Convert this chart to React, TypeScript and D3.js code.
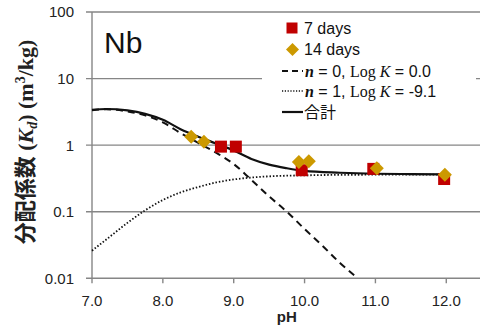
import React from "react";
import * as d3 from "d3";

// measured Kd values (m3/kg)
const PH_7DAYS = [8.82, 9.03, 9.96, 10.97, 11.97];
const KD_7DAYS = [0.95, 0.95, 0.42, 0.44, 0.31];
const PH_14DAYS = [8.4, 8.58, 9.92, 10.06, 11.02, 11.98];
const KD_14DAYS = [1.34, 1.12, 0.556, 0.575, 0.45, 0.36];

// model curves
const PH_N0 = [7.0, 7.2, 7.5, 7.75, 8.0, 8.25, 8.5, 8.75, 9.0, 9.25, 9.5, 9.75, 10.0, 10.25, 10.5, 10.75];
const KD_N0 = [3.35, 3.45, 3.22, 2.8, 2.2, 1.52, 1.08, 0.77, 0.52, 0.3, 0.17, 0.1, 0.055, 0.031, 0.017, 0.01];
const PH_N1 = [7.0, 7.25, 7.5, 7.75, 8.0, 8.25, 8.5, 8.75, 9.0, 9.5, 10.0, 10.5, 11.0, 12.0];
const KD_N1 = [0.026, 0.042, 0.068, 0.105, 0.15, 0.195, 0.235, 0.275, 0.305, 0.34, 0.352, 0.358, 0.36, 0.362];
const PH_TOTAL = [7.0, 7.2, 7.5, 7.75, 8.0, 8.25, 8.5, 8.75, 9.0, 9.25, 9.5, 9.75, 10.0, 10.5, 11.0, 11.5, 12.0];
const KD_TOTAL = [3.38, 3.49, 3.32, 2.95, 2.4, 1.74, 1.34, 1.06, 0.83, 0.62, 0.51, 0.45, 0.41, 0.385, 0.372, 0.368, 0.365];

const X_TICKS = [7, 8, 9, 10, 11, 12];
const Y_TICKS = [0.01, 0.1, 1, 10, 100];
const Y_TICK_LABELS = ["0.01", "0.1", "1", "10", "100"];

const W = 480;
const H = 329;
const GRID = "#868686";
const RED = "#C00000";
const GOLD = "#CC9900";

const x = d3.scaleLinear().domain([7, 12.5]).range([92, 481.7]);
const y = d3.scaleLog().domain([0.01, 100]).range([278.3, 12]);

const zip = (xs: number[], ys: number[]) => xs.map((v, i) => [v, ys[i]] as [number, number]);

const line = d3
  .line<[number, number]>()
  .x((d) => x(d[0]))
  .y((d) => y(d[1]))
  .curve(d3.curveMonotoneX);

const serif = "'Liberation Serif', 'Times New Roman', serif";
const sans = "'Liberation Sans', Arial, sans-serif";
const cjk = "'Noto Sans CJK JP', sans-serif";

export default function App() {
  const s7 = zip(PH_7DAYS, KD_7DAYS);
  const s14 = zip(PH_14DAYS, KD_14DAYS);
  return (
    <svg
      width={W}
      height={H}
      style={{ position: "absolute", left: 0, top: 0, background: "#fff" }}
    >
      {/* gridlines */}
      {Y_TICKS.map((t) => (
        <line key={t} x1={86} x2={W} y1={y(t)} y2={y(t)} stroke={GRID} strokeWidth={1.4} />
      ))}
      <line x1={x(7)} x2={x(7)} y1={y(100)} y2={y(0.01)} stroke={GRID} strokeWidth={1.4} />
      {X_TICKS.map((t) => (
        <line key={t} x1={x(t)} x2={x(t)} y1={y(0.01)} y2={y(0.01) + 5} stroke={GRID} strokeWidth={1.4} />
      ))}

      {/* tick labels */}
      {X_TICKS.map((t) => (
        <text key={t} x={x(t)} y={306} textAnchor="middle" fontFamily={sans} fontSize={15} fill="#222">
          {t.toFixed(1)}
        </text>
      ))}
      {Y_TICKS.map((t, i) => (
        <text key={t} x={74} y={y(t)} dy="0.36em" textAnchor="end" fontFamily={sans} fontSize={15} fill="#222">
          {Y_TICK_LABELS[i]}
        </text>
      ))}

      {/* axis titles */}
      <text x={x(9.75)} y={322} textAnchor="middle" fontFamily={sans} fontWeight="bold" fontSize={15} fill="#222">
        pH
      </text>
      <text
        transform="translate(33,142) rotate(-90)"
        textAnchor="middle"
        fontWeight="bold"
        fontSize={22}
        fill="#222"
      >
        <tspan fontFamily={cjk}>分配係数</tspan>
        <tspan fontFamily={serif}> (</tspan>
        <tspan fontFamily={serif} fontStyle="italic">K</tspan>
        <tspan fontFamily={serif} fontStyle="italic" fontSize={14} dy={4}>d</tspan>
        <tspan fontFamily={serif} dy={-4}>) (m</tspan>
        <tspan fontFamily={serif} fontSize={14} dy={-8}>3</tspan>
        <tspan fontFamily={serif} dy={8}>/kg)</tspan>
      </text>

      <text x={104} y={53} fontFamily={sans} fontSize={30} fill="#111">
        Nb
      </text>

      {/* legend */}
      <rect x={262} y={15} width={214} height={122} fill="#fff" />
      <rect x={286.5} y={22.5} width={11} height={11} fill={RED} />
      <text x={304} y={28} dy="0.35em" fontFamily={sans} fontSize={16} fill="#111">7 days</text>
      <path d="M292.5,43 L299,49.5 L292.5,56 L286,49.5 Z" fill={GOLD} />
      <text x={304} y={49.5} dy="0.35em" fontFamily={sans} fontSize={16} fill="#111">14 days</text>
      <line x1={282} x2={303} y1={71} y2={71} stroke="#111" strokeWidth={2} strokeDasharray="6,4" />
      <text x={305} y={71} dy="0.35em" fontSize={16} fill="#111">
        <tspan fontFamily={serif} fontWeight="bold" fontStyle="italic">n</tspan>
        <tspan fontFamily={sans}> = 0, </tspan>
        <tspan fontFamily={serif}>Log </tspan>
        <tspan fontFamily={serif} fontStyle="italic">K</tspan>
        <tspan fontFamily={sans}> = 0.0</tspan>
      </text>
      <line x1={282} x2={303} y1={91} y2={91} stroke="#111" strokeWidth={1.4} strokeDasharray="1.2,1.6" />
      <text x={305} y={91} dy="0.35em" fontSize={16} fill="#111">
        <tspan fontFamily={serif} fontWeight="bold" fontStyle="italic">n</tspan>
        <tspan fontFamily={sans}> = 1, </tspan>
        <tspan fontFamily={serif}>Log </tspan>
        <tspan fontFamily={serif} fontStyle="italic">K</tspan>
        <tspan fontFamily={sans}> = -9.1</tspan>
      </text>
      <line x1={282} x2={303} y1={112} y2={112} stroke="#111" strokeWidth={2.2} />
      <text x={304} y={112} dy="0.35em" fontFamily={cjk} fontSize={16} fill="#111">合計</text>

      {/* model curves */}
      <path d={line(zip(PH_N1, KD_N1)) || ""} fill="none" stroke="#111" strokeWidth={1.8} strokeDasharray="1.5,1.9" />
      <path d={line(zip(PH_N0, KD_N0)) || ""} fill="none" stroke="#111" strokeWidth={2} strokeDasharray="7,5" />
      <path d={line(zip(PH_TOTAL, KD_TOTAL)) || ""} fill="none" stroke="#111" strokeWidth={2.2} />

      {/* data */}
      {s7.map((d, i) => (
        <rect key={"r" + i} x={x(d[0]) - 6} y={y(d[1]) - 6} width={12} height={12} fill={RED} />
      ))}
      {s14.map((d, i) => (
        <path
          key={"g" + i}
          transform={`translate(${x(d[0])},${y(d[1])})`}
          d="M0,-7 L7,0 L0,7 L-7,0 Z"
          fill={GOLD}
        />
      ))}
    </svg>
  );
}
